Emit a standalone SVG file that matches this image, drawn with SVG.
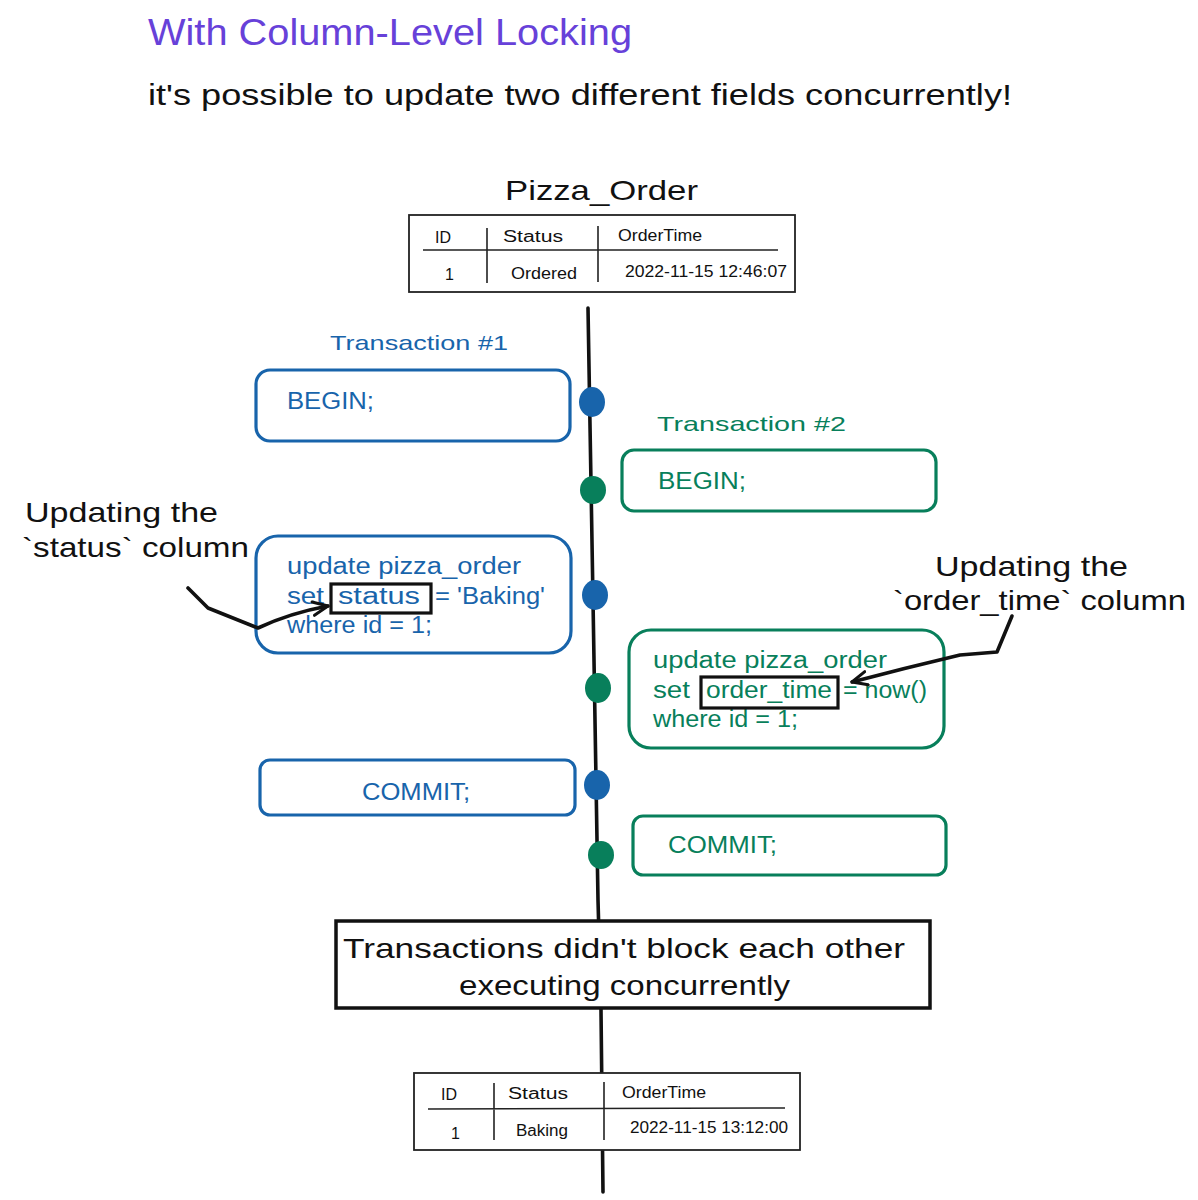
<svg xmlns="http://www.w3.org/2000/svg" width="1198" height="1200" viewBox="0 0 1198 1200">
<style>
text{font-family:"Liberation Sans","DejaVu Sans",sans-serif}
.t1{fill:#1864ab}
.t2{fill:#087f5b}
.blk{fill:#111}
.bx1{fill:#fff;stroke:#1864ab;stroke-width:3.2}
.bx2{fill:#fff;stroke:#087f5b;stroke-width:3.2}
.tbl{fill:#fff;stroke:#222;stroke-width:1.8}
.tl{stroke:#222;stroke-width:1.6;fill:none}
.hl{fill:none;stroke:#111;stroke-width:3.2}
.dot1{fill:#1864ab}
.dot2{fill:#087f5b}
.conn{fill:none;stroke:#111;stroke-width:3.6;stroke-linecap:round;stroke-linejoin:round}
</style>
<defs>
<marker id="arr" viewBox="0 0 12 12" refX="11" refY="6" markerWidth="18" markerHeight="18" orient="auto" markerUnits="userSpaceOnUse">
<path d="M1,1.5 L11,6 L1,10.5" fill="none" stroke="#111" stroke-width="2" stroke-linecap="round" stroke-linejoin="round"/>
</marker>
</defs>
<rect width="1198" height="1200" fill="#fff"/>

<g id="title">
<text x="148" y="45" font-size="36" fill="#6741d9" textLength="484" lengthAdjust="spacingAndGlyphs">With Column-Level Locking</text>
<text x="148" y="105" font-size="29" class="blk" textLength="864" lengthAdjust="spacingAndGlyphs">it's possible to update two different fields concurrently!</text>
</g>

<g id="timeline">
<path class="conn" d="M588,308 L593,600 L598,900 L601,1010 L603,1192" stroke-width="3.5"/>
</g>

<g id="table-before">
<text x="505" y="200" font-size="28" class="blk" textLength="193" lengthAdjust="spacingAndGlyphs">Pizza_Order</text>
<rect class="tbl" x="409" y="215" width="386" height="77"/>
<path class="tl" d="M423,250 L778,250 M487,228 L487,283 M598,226 L598,282"/>
<text x="435" y="243" font-size="16" class="blk">ID</text>
<text x="503" y="242" font-size="16" class="blk" textLength="60" lengthAdjust="spacingAndGlyphs">Status</text>
<text x="618" y="241" font-size="16" class="blk" textLength="84" lengthAdjust="spacingAndGlyphs">OrderTime</text>
<text x="445" y="280" font-size="16" class="blk">1</text>
<text x="511" y="279" font-size="16" class="blk" textLength="66" lengthAdjust="spacingAndGlyphs">Ordered</text>
<text x="625" y="277" font-size="17" class="blk" textLength="162" lengthAdjust="spacingAndGlyphs">2022-11-15 12:46:07</text>
</g>

<g id="t1-label"><text x="330" y="350" font-size="21" class="t1" textLength="178" lengthAdjust="spacingAndGlyphs">Transaction #1</text></g>
<g id="t2-label"><text x="657" y="431" font-size="21" class="t2" textLength="189" lengthAdjust="spacingAndGlyphs">Transaction #2</text></g>

<g id="t1-begin">
<rect class="bx1" x="256" y="370" width="314" height="71" rx="14"/>
<text x="287" y="409" font-size="23" class="t1" textLength="87" lengthAdjust="spacingAndGlyphs">BEGIN;</text>
<ellipse class="dot1" cx="592" cy="402" rx="13" ry="15"/>
</g>

<g id="t2-begin">
<rect class="bx2" x="622" y="450" width="314" height="61" rx="12"/>
<text x="658" y="489" font-size="23" class="t2" textLength="88" lengthAdjust="spacingAndGlyphs">BEGIN;</text>
<ellipse class="dot2" cx="593" cy="490" rx="13" ry="14"/>
</g>

<g id="t1-update">
<rect class="bx1" x="256" y="536" width="315" height="117" rx="22"/>
<text x="287" y="574" font-size="23" class="t1" textLength="234" lengthAdjust="spacingAndGlyphs">update pizza_order</text>
<text y="604" font-size="23" class="t1"><tspan x="287" textLength="37" lengthAdjust="spacingAndGlyphs">set</tspan> <tspan x="338" textLength="82" lengthAdjust="spacingAndGlyphs">status</tspan> <tspan x="435" textLength="110" lengthAdjust="spacingAndGlyphs">= 'Baking'</tspan></text>
<text x="287" y="633" font-size="23" class="t1" textLength="145" lengthAdjust="spacingAndGlyphs">where id = 1;</text>
<rect class="hl" x="331" y="584" width="100" height="29"/>
<ellipse class="dot1" cx="595" cy="595" rx="13" ry="15"/>
</g>

<g id="t2-update">
<rect class="bx2" x="629" y="630" width="315" height="118" rx="22"/>
<text x="653" y="668" font-size="23" class="t2" textLength="234" lengthAdjust="spacingAndGlyphs">update pizza_order</text>
<text y="698" font-size="23" class="t2"><tspan x="653" textLength="37" lengthAdjust="spacingAndGlyphs">set</tspan> <tspan x="706" textLength="126" lengthAdjust="spacingAndGlyphs">order_time</tspan> <tspan x="843" textLength="84" lengthAdjust="spacingAndGlyphs">= now()</tspan></text>
<text x="653" y="727" font-size="23" class="t2" textLength="145" lengthAdjust="spacingAndGlyphs">where id = 1;</text>
<rect class="hl" x="701" y="677" width="137" height="31"/>
<ellipse class="dot2" cx="598" cy="688" rx="13" ry="15"/>
</g>

<g id="note-status">
<text x="25" y="522" font-size="28" class="blk" textLength="193" lengthAdjust="spacingAndGlyphs">Updating the</text>
<text x="22" y="557" font-size="28" class="blk" textLength="227" lengthAdjust="spacingAndGlyphs">`status` column</text>
</g>

<g id="note-order-time">
<text x="935" y="576" font-size="28" class="blk" textLength="193" lengthAdjust="spacingAndGlyphs">Updating the</text>
<text x="893" y="610" font-size="28" class="blk" textLength="293" lengthAdjust="spacingAndGlyphs">`order_time` column</text>
</g>

<g id="t1-commit">
<rect class="bx1" x="260" y="760" width="315" height="55" rx="10"/>
<text x="362" y="800" font-size="23" class="t1" textLength="108" lengthAdjust="spacingAndGlyphs">COMMIT;</text>
<ellipse class="dot1" cx="597" cy="785" rx="13" ry="15"/>
</g>

<g id="t2-commit">
<rect class="bx2" x="633" y="816" width="313" height="59" rx="10"/>
<text x="668" y="853" font-size="23" class="t2" textLength="109" lengthAdjust="spacingAndGlyphs">COMMIT;</text>
<ellipse class="dot2" cx="601" cy="855" rx="13" ry="14"/>
</g>

<g id="result-note">
<rect x="336" y="921" width="594" height="87" fill="#fff" stroke="#111" stroke-width="3.5"/>
<text x="343" y="958" font-size="28" class="blk" textLength="562" lengthAdjust="spacingAndGlyphs">Transactions didn't block each other</text>
<text x="459" y="995" font-size="28" class="blk" textLength="331" lengthAdjust="spacingAndGlyphs">executing concurrently</text>
</g>

<g id="table-after">
<rect class="tbl" x="414" y="1073" width="386" height="77"/>
<path class="tl" d="M428,1109 L785,1108 M494,1083 L494,1140 M604,1082 L604,1140"/>
<text x="441" y="1100" font-size="16" class="blk">ID</text>
<text x="508" y="1099" font-size="16" class="blk" textLength="60" lengthAdjust="spacingAndGlyphs">Status</text>
<text x="622" y="1098" font-size="16" class="blk" textLength="84" lengthAdjust="spacingAndGlyphs">OrderTime</text>
<text x="451" y="1139" font-size="16" class="blk">1</text>
<text x="516" y="1136" font-size="16" class="blk" textLength="52" lengthAdjust="spacingAndGlyphs">Baking</text>
<text x="630" y="1133" font-size="17" class="blk" textLength="158" lengthAdjust="spacingAndGlyphs">2022-11-15 13:12:00</text>
</g>

<g id="connectors">
<path class="conn" d="M188,588 L208,608 L258,628 Q290,613 328,606" marker-end="url(#arr)"/>
<path class="conn" d="M1012,616 L997,652 L960,655 Q905,668 852,682" marker-end="url(#arr)"/>
</g>
</svg>
